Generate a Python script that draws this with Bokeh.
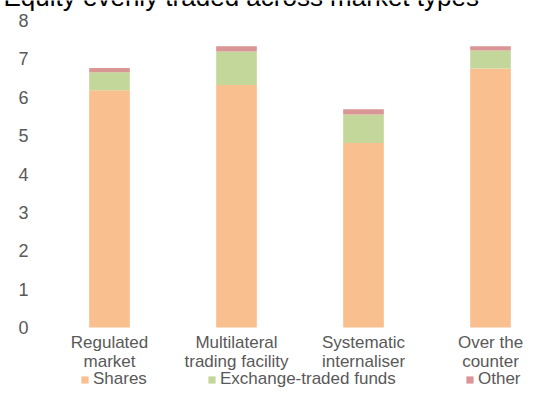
from bokeh.plotting import figure
from bokeh.models import Range1d, Legend, LegendItem, ColumnDataSource
from bokeh.core.properties import value
from bokeh.embed import file_html
from bokeh.resources import INLINE

# ---- data ----
categories = ["Regulated\nmarket", "Multilateral\ntrading facility",
              "Systematic\ninternaliser", "Over the\ncounter"]
series_names = ["Shares", "Exchange-traded funds", "Other"]
shares = [6.18, 6.32, 4.81, 6.75]
etf = [0.47, 0.87, 0.74, 0.47]
other = [0.11, 0.14, 0.14, 0.11]
y_ticks = [0, 1, 2, 3, 4, 5, 6, 7, 8]
title_text = "Equity evenly traded across market types"

colors = ["#FABF8F", "#C4D79B", "#DA9694"]
FONT = "Liberation Sans"
GREY = "#595959"

# ---- layout (pixels) ----
W, H = 523, 389
TOP = 20            # pixel row of value 8
ZERO = 327          # pixel row of value 0
C0, STEP = 109, 127 # first bar centre, pixels per category
PX = (ZERO - TOP) / 8.0  # pixels per unit

y_lo = -(H - ZERO) / PX
y_hi = 8 + TOP / PX
x_lo = -C0 / STEP
x_hi = (W - C0) / STEP

pos = list(range(len(categories)))
src = ColumnDataSource(dict(x=pos, Shares=shares, ETF=etf, Other=other))

p = figure(width=W, height=H, output_backend="svg", toolbar_location=None,
           x_range=Range1d(x_lo, x_hi), y_range=Range1d(y_lo, y_hi),
           min_border=0)

rs = p.vbar_stack(["Shares", "ETF", "Other"], x="x", width=0.32, source=src,
                  color=colors, line_color=None)

p.outline_line_color = None
p.grid.visible = False
p.axis.visible = False

# value labels of the y scale
p.text(x=[x_lo + 28 / STEP] * len(y_ticks), y=y_ticks,
       text=[str(t) for t in y_ticks], text_font=value(FONT),
       text_font_size="18px", text_color=GREY,
       text_align="right", text_baseline="middle")

# category labels (two lines each)
line1 = [c.split("\n")[0] for c in categories]
line2 = [c.split("\n")[1] for c in categories]
for txt, dy in ((line1, 15), (line2, 34)):
    p.text(x=pos, y=[-dy / PX] * len(pos), text=txt,
           text_font=value(FONT), text_font_size="17px", text_color=GREY,
           text_align="center", text_baseline="middle")

# legends (one per item, Excel-like spacing)
leg_x = [80, 207, 465]
for r, name, lx in zip(rs, series_names, leg_x):
    lg = Legend(items=[LegendItem(label=name, renderers=[r])],
                location=(lx, 0), orientation="horizontal",
                padding=0, margin=0, border_line_color=None,
                background_fill_alpha=0, glyph_width=9, glyph_height=9,
                label_standoff=4, label_height=17,
                label_text_font=FONT, label_text_font_size="17px",
                label_text_color=GREY)
    p.add_layout(lg, "center")

# title (its top is cut by the picture's edge, as in the reference)
p.text(x=[x_lo + 3 / STEP], y=[8 + (TOP + 4) / PX], text=[title_text],
       text_font=value(FONT), text_font_size="26px", text_color="black",
       text_baseline="alphabetic", text_align="left")

open("out.html", "w").write(file_html(p, INLINE))
